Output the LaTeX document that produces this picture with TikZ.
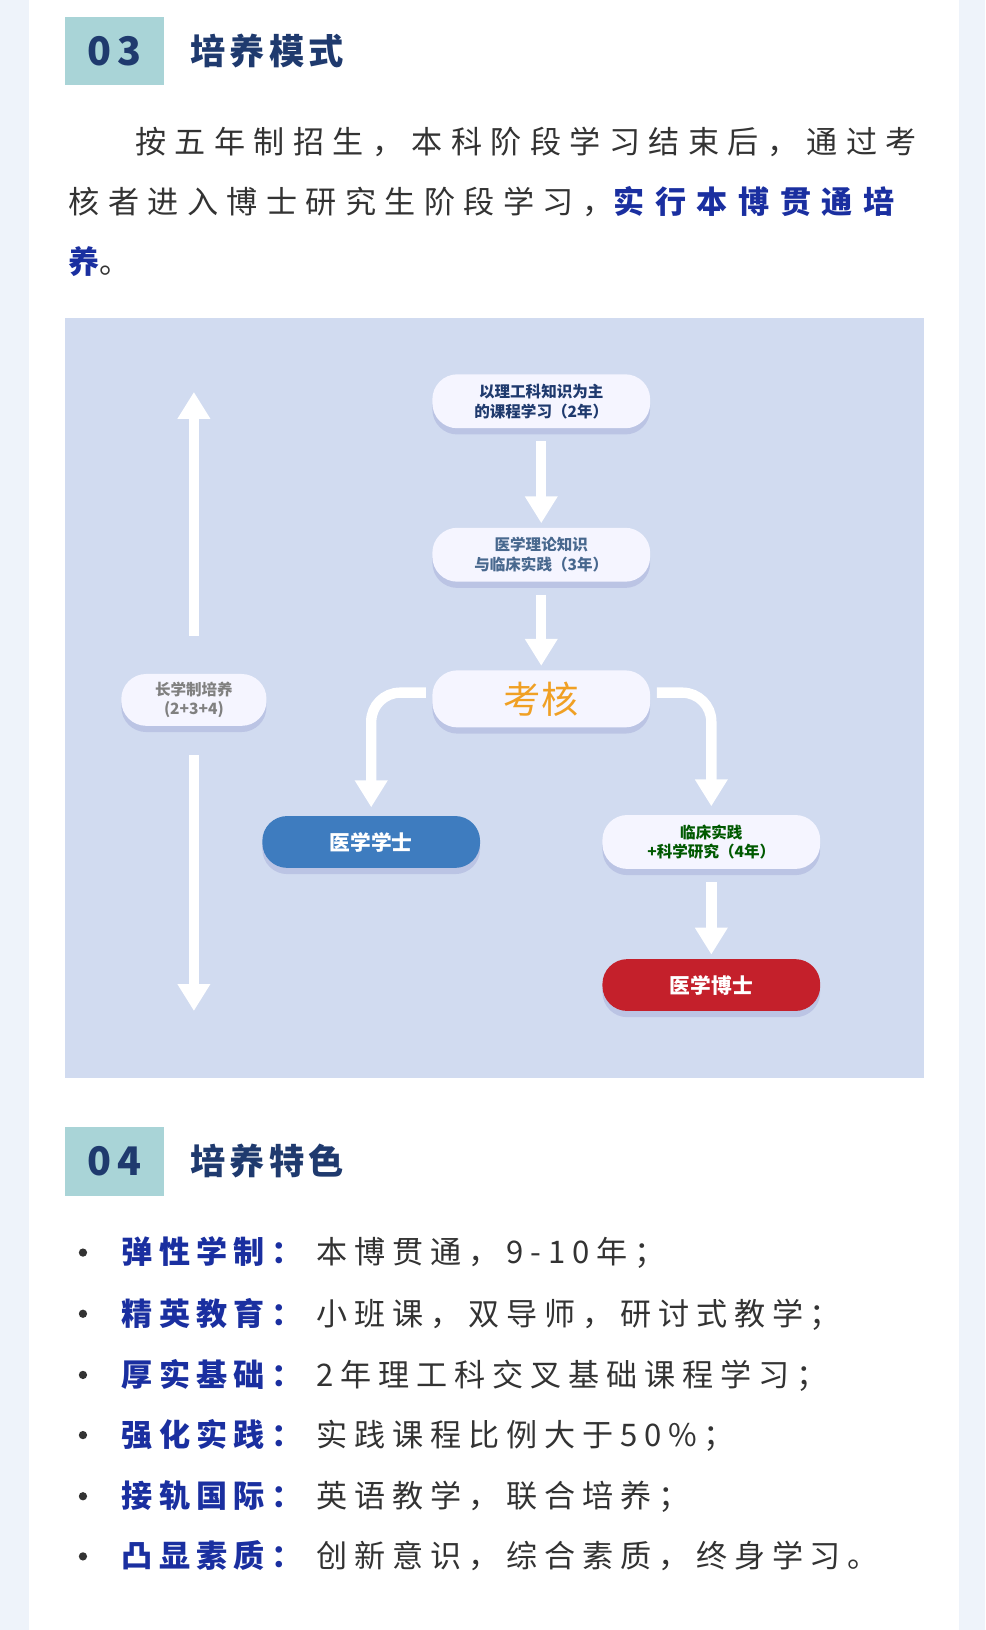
\documentclass[tikz,border=0pt]{standalone}
\usepackage{fontspec}
\setmainfont{Noto Sans CJK SC}
\usetikzlibrary{arrows.meta,shadows}
\definecolor{pagebg}{HTML}{EEF3FA}
\definecolor{navy}{HTML}{1F3A6E}
\definecolor{teal}{HTML}{A9D4D7}
\definecolor{diag}{HTML}{D1DBF0}
\definecolor{hl}{HTML}{1A2FA0}
\definecolor{txt}{HTML}{333333}
\definecolor{bluebox}{HTML}{3E7CBF}
\definecolor{redbox}{HTML}{C4202B}
\definecolor{orng}{HTML}{F0A024}
\tikzset{
  pill/.style={rounded corners=12pt, minimum width=105pt, minimum height=26pt, align=center, inner sep=0,
     drop shadow={shadow xshift=0pt, shadow yshift=-3pt, opacity=0.10, fill=blue!50!black}},
  wpill/.style={pill, fill=white!96!blue},
  warrow/.style={white, line width=5pt, -{Triangle[width=15pt,length=13pt]}},
  hbox/.style={fill=teal, minimum width=47.5pt, minimum height=33pt, inner sep=0, font=\fontsize{19}{22}\selectfont\bfseries\addfontfeature{LetterSpace=15}, text=navy},
  htitle/.style={anchor=west, font=\fontsize{17}{20}\selectfont\bfseries\addfontfeature{LetterSpace=12}, text=navy, inner sep=0},
  para/.style={anchor=base west, inner sep=0, text=txt, font=\fontsize{15}{18}\selectfont\addfontfeature{LetterSpace=27}},
  item/.style={anchor=base west, inner sep=0, text=txt, font=\fontsize{15}{18}\selectfont\addfontfeature{LetterSpace=22}},
  lab/.style={anchor=base west, inner sep=0, text=hl, font=\fontsize{15}{18}\selectfont\bfseries\addfontfeature{LetterSpace=20}},
  dot/.style={circle, fill=txt, inner sep=0, minimum size=4pt}
}
\begin{document}
\begin{tikzpicture}[x=0.5pt,y=-0.5pt]
\useasboundingbox (0,0) rectangle (950,1572);
\fill[pagebg] (0,0) rectangle (950,1572);
\fill[white] (28,0) rectangle (925,1572);
% header 03
\node[hbox] (h3) at (110.5,49) {03};
\node[htitle] (t3) at (183,49) {培养模式};
% paragraph
\node[para] (p1) at (130,148) {按五年制招生，本科阶段学习结束后，通过考};
\node[para] (p2) at (66,206) {核者进入博士研究生阶段学习，{\color{hl}\bfseries\addfontfeature{LetterSpace=34} 实行本博贯通培}};
\node[para] (p3) at (66,264) {{\color{hl}\bfseries 养}。};
% diagram
\fill[diag] (63,307) rectangle (891,1040);
\node[wpill, font=\fontsize{7.5}{9.5}\selectfont\bfseries, text=navy] (a) at (522,387) {以理工科知识为主\\的课程学习（2年）};
\node[wpill, font=\fontsize{7.5}{9.5}\selectfont\bfseries, text=teal!30!navy] (b) at (522,535) {医学理论知识\\与临床实践（3年）};
\node[wpill, minimum height=27.5pt, font=\fontsize{18}{20}\selectfont, text=orng] (k) at (522,674) {考核};
\node[pill, fill=bluebox, minimum height=25pt, font=\fontsize{10}{12}\selectfont\bfseries, text=white] (x) at (358,812) {医学学士};
\node[wpill, font=\fontsize{7.5}{9.5}\selectfont\bfseries, text=green!35!black] (c) at (686,812) {临床实践\\+科学研究（4年）};
\node[pill, fill=redbox, minimum height=25pt, font=\fontsize{10}{12}\selectfont\bfseries, text=white] (d) at (686,950) {医学博士};
\node[wpill, minimum width=70pt, minimum height=25pt, font=\fontsize{7.5}{9.5}\selectfont\bfseries, text=gray] (l) at (187,675) {长学制培养\\(2+3+4)};
\draw[warrow, shorten <=6pt, shorten >=2pt] (a) -- (b);
\draw[warrow, shorten <=6pt, shorten >=2pt] (b) -- (k);
\draw[warrow, rounded corners=14pt, shorten >=4pt] ([xshift=-3pt,yshift=3pt]k.west) -| (x.north);
\draw[warrow, rounded corners=14pt, shorten >=4pt] ([xshift=3pt,yshift=3pt]k.east) -| (c.north);
\draw[warrow, shorten <=6pt, shorten >=2pt] (c) -- (d);
\coordinate (up) at (187,378);
\coordinate (dn) at (187,975);
\draw[warrow, shorten <=18pt] (l.north) -- (up);
\draw[warrow, shorten <=14pt] (l.south) -- (dn);
% header 04
\node[hbox] (h4) at (110.5,1120) {04};
\node[htitle] (t4) at (183,1120) {培养特色};
% list
\foreach \y/\a/\b [count=\i] in {1219/弹性学制：/本博贯通，9-10年；,
  1278/精英教育：/小班课，双导师，研讨式教学；,
  1337/厚实基础：/2年理工科交叉基础课程学习；,
  1395/强化实践：/实践课程比例大于50\%；,
  1454/接轨国际：/英语教学，联合培养；,
  1512/凸显素质：/创新意识，综合素质，终身学习。}{
  \node[dot] (d\i) at (80,\y-11) {};
  \node[lab] (la\i) at (117,\y) {\a};
  \node[item] (it\i) at (305,\y) {\b};
}
\end{tikzpicture}
\end{document}
